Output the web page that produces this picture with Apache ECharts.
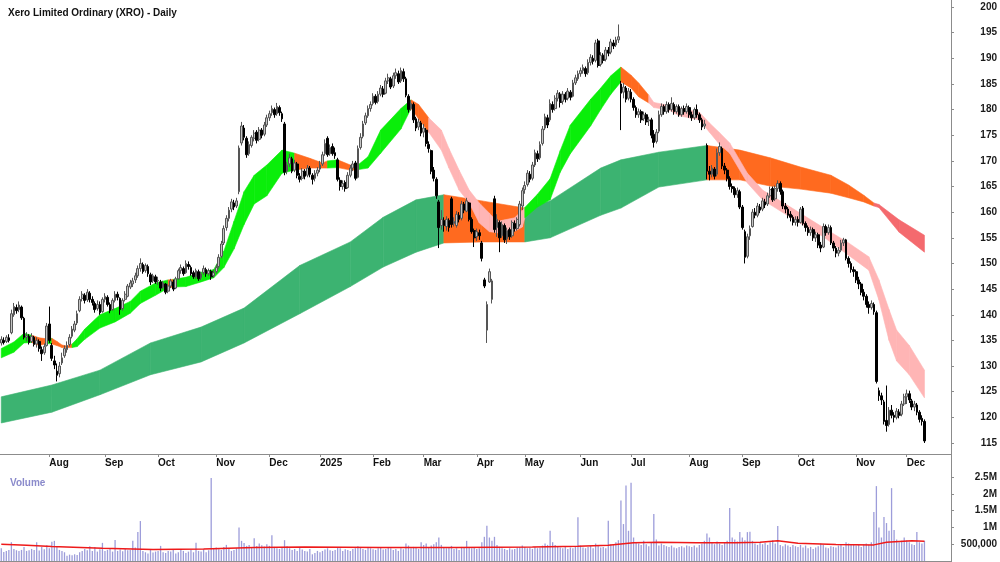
<!DOCTYPE html>
<html>
<head>
<meta charset="utf-8">
<script src="https://cdn.jsdelivr.net/npm/echarts@6/dist/echarts.min.js"></script>
<style>
html,body{margin:0;padding:0;background:#fff;}
#main{width:1000px;height:562px;}
</style>
</head>
<body>
<div id="main"></div>
<script>
// month labels on the time axis, one per month block below (the first block has no label)
const monthNames = ['Jul','Aug','Sep','Oct','Nov','Dec','2025','Feb','Mar','Apr','May','Jun','Jul','Aug','Sep','Oct','Nov','Dec'];
const priceTicks = [115,120,125,130,135,140,145,150,155,160,165,170,175,180,185,190,195,200];
const volTicks = [500000,1000000,1500000,2000000,2500000];
const volTickLabels = ['500,000','1M','1.5M','2M','2.5M'];

// daily bars: [open, close, low, high]
const jul24 = [[134.5,135.2,134.0,135.8],[135.0,134.6,134.2,135.6],[134.8,135.6,134.5,136.0],[135.5,135.0,134.6,136.2],[136.5,140.2,136.2,141.0],[140.0,141.6,139.6,142.3],[141.4,140.8,140.2,142.0],[141.0,141.9,140.5,142.6],[141.5,139.4,139.0,141.8],[139.3,135.6,135.2,139.6],[135.6,135.9,134.8,136.6],[135.8,134.6,134.2,136.2],[134.8,135.8,134.5,136.4],[135.6,134.2,133.8,135.9],[134.3,135.0,133.6,135.6],[134.8,133.4,132.8,135.2],[133.2,132.4,131.0,133.8],[132.6,133.8,132.2,134.4],[134.0,137.8,133.8,138.4]];
const aug24 = [[138.2,135.0,134.5,141.6],[134.0,131.5,131.0,134.5],[131.0,130.2,129.4,132.0],[129.0,128.2,127.0,130.5],[128.5,130.0,127.8,130.8],[130.6,131.6,130.2,132.6],[132.0,133.4,131.6,134.0],[133.2,134.0,132.6,134.8],[134.2,135.6,133.8,136.2],[135.8,137.2,135.4,137.8],[137.0,138.2,136.6,138.8],[138.4,140.2,138.0,140.8],[140.8,143.0,140.5,143.6],[143.2,144.0,142.6,144.6],[143.8,142.8,142.2,144.2],[142.9,144.4,142.5,145.0],[144.2,143.0,142.4,144.6],[143.0,142.4,141.8,143.6],[142.2,141.0,140.4,142.6],[141.2,142.0,140.8,142.8],[142.0,140.4,140.0,142.6],[140.6,143.0,140.4,143.4]];
const sep24 = [[143.0,143.6,142.4,144.2],[143.4,142.0,141.6,143.8],[142.0,140.8,140.3,142.4],[141.0,142.8,140.8,143.2],[142.8,144.0,142.4,144.6],[144.0,143.4,142.8,144.5],[143.2,141.0,140.0,143.4],[141.2,142.8,140.8,143.2],[143.0,144.0,142.6,144.6],[143.6,145.6,143.4,146.0],[145.4,146.2,145.0,146.8],[146.0,146.6,145.4,147.2],[146.8,147.6,146.2,148.2],[147.6,149.0,147.2,149.6],[149.0,150.0,148.4,151.0],[149.8,148.4,148.0,150.2],[148.6,149.6,148.2,150.0],[149.4,148.0,147.4,149.8],[147.8,146.4,145.8,148.2],[146.6,147.6,146.2,148.0],[147.4,146.4,146.0,147.8]];
const oct24 = [[146.6,146.7,145.8,147.4],[146.4,145.2,144.6,146.8],[145.4,146.2,145.0,146.6],[146.0,144.4,144.0,146.2],[144.6,145.6,144.2,146.0],[145.6,146.6,145.2,147.0],[146.4,145.0,144.6,146.8],[145.2,147.0,145.0,147.4],[147.0,148.6,146.8,149.0],[148.6,149.2,148.0,149.8],[149.0,148.0,147.6,149.4],[148.2,150.0,148.0,150.6],[149.8,149.4,148.8,150.4],[149.2,148.0,147.6,149.6],[148.2,147.4,147.0,148.6],[147.4,148.6,147.0,149.0],[148.4,147.0,146.6,148.8],[147.2,148.0,146.8,148.4],[148.2,149.0,147.8,149.6],[148.8,148.0,147.4,149.2],[148.0,148.6,147.6,149.0],[148.4,147.4,146.8,148.8],[147.6,148.2,147.2,148.8]];
const nov24 = [[148.4,149.2,148.0,149.8],[149.4,151.2,149.0,151.8],[151.4,153.8,151.0,154.4],[154.0,156.8,153.6,157.4],[157.0,158.8,156.4,159.4],[158.8,160.4,158.2,161.0],[160.6,162.0,160.0,162.6],[161.8,161.0,160.4,162.4],[161.2,162.2,160.8,162.8],[164.0,172.5,163.5,173.0],[173.5,176.8,173.0,177.6],[176.4,174.6,174.0,177.0],[174.4,171.2,170.6,174.8],[171.4,173.2,171.0,173.8],[173.0,174.6,172.6,175.0],[174.4,175.4,173.8,176.0],[175.6,174.0,173.4,176.0],[174.2,176.0,173.8,176.6],[176.0,175.0,174.4,176.4],[175.2,177.0,174.8,177.6],[177.0,178.4,176.6,179.0]];
const dec24 = [[178.4,179.2,177.8,179.8],[179.4,180.2,178.8,180.8],[180.0,179.0,178.4,180.4],[179.2,180.6,178.8,181.3],[180.4,179.4,178.8,180.8],[179.2,178.2,177.6,179.6],[177.2,167.8,167.2,177.6],[168.0,169.2,167.4,169.8],[169.4,170.6,168.8,171.4],[170.4,168.0,167.6,170.8],[168.2,169.6,167.8,170.2],[169.4,167.2,166.6,169.8],[167.0,166.4,165.8,167.6],[166.6,168.0,166.2,168.6],[168.0,167.0,166.4,168.4],[167.2,168.6,166.8,169.2],[168.6,167.4,166.8,169.0],[167.2,166.4,165.4,167.6],[166.6,167.6,166.0,168.2],[167.6,168.2,167.0,168.8]];
const jan25 = [[168.4,169.2,167.8,170.0],[169.4,171.2,169.0,171.8],[171.4,173.4,171.0,174.2],[174.4,171.2,170.8,174.8],[171.4,172.6,171.0,173.2],[172.8,171.4,171.0,173.4],[171.6,171.0,170.4,172.6],[170.2,166.4,166.0,170.6],[166.2,165.0,164.2,166.8],[165.0,165.6,164.4,166.2],[165.8,164.6,164.0,166.2],[164.8,167.2,164.6,167.8],[167.2,168.6,166.8,169.2],[168.6,169.4,168.0,170.0],[169.6,166.6,166.2,170.0],[166.8,172.4,166.6,173.0],[172.6,174.6,172.2,175.4],[174.8,177.2,174.4,177.8],[177.4,178.8,177.0,179.4],[178.8,180.2,178.4,180.8],[180.2,181.0,179.6,181.6]];
const feb25 = [[181.2,182.6,180.8,183.2],[182.6,181.4,181.0,183.0],[181.6,183.0,181.2,183.6],[183.0,184.2,182.6,184.8],[184.0,183.0,182.4,184.6],[183.2,185.6,183.0,186.2],[185.6,186.2,185.0,187.0],[186.0,184.4,184.0,186.4],[184.6,186.6,184.2,187.2],[186.6,187.2,186.0,188.0],[187.0,185.4,185.0,187.6],[185.6,187.6,185.2,188.2],[187.4,186.0,185.4,188.0],[186.0,182.8,182.4,186.4],[182.6,180.0,179.4,183.0],[180.2,181.2,179.8,181.8],[181.0,178.0,177.4,181.4],[178.2,176.4,175.8,178.6],[176.6,177.6,176.0,178.2],[177.4,175.4,174.8,177.8]];
const mar25 = [[175.6,176.4,174.6,177.2],[176.0,173.4,172.8,176.4],[173.2,172.4,171.6,173.8],[172.0,168.0,167.4,172.2],[168.2,166.6,166.0,168.8],[166.4,163.2,162.6,166.8],[162.0,157.0,153.0,162.4],[157.4,158.6,156.6,160.4],[158.4,157.4,156.2,159.0],[157.2,158.6,156.4,159.2],[158.4,157.0,156.2,158.8],[162.6,157.6,157.0,163.0],[157.8,158.2,157.2,159.0],[157.4,159.6,157.0,160.2],[159.4,158.6,158.0,160.0],[158.8,161.6,158.4,162.2],[161.6,160.4,159.8,162.0],[160.2,162.2,160.0,162.8],[161.8,158.6,158.2,162.0],[158.6,156.2,155.8,159.0],[156.4,155.0,153.2,156.8]];
const apr25 = [[155.2,156.2,154.4,156.8],[156.0,155.4,154.6,156.6],[154.0,151.0,150.4,154.4],[146.8,145.6,145.2,147.2],[137.0,142.0,134.5,142.6],[146.4,148.4,146.2,149.0],[143.0,146.6,142.2,147.0],[162.6,156.6,156.0,163.2],[157.0,158.6,155.2,159.6],[158.0,155.0,152.2,158.4],[155.4,157.6,155.0,158.2],[157.4,154.6,154.0,157.8],[154.8,156.4,153.8,157.0],[156.6,155.2,154.6,157.0],[155.4,158.0,155.0,158.4],[157.8,156.8,156.2,158.4],[156.8,158.6,156.4,159.0],[157.6,161.6,157.2,162.2],[161.2,164.2,160.4,164.8]];
const may25 = [[164.4,165.2,163.6,166.0],[165.4,167.6,165.0,168.2],[167.4,166.4,165.8,168.0],[166.6,169.2,166.2,169.8],[169.2,171.6,168.8,172.2],[171.4,170.4,169.8,172.0],[170.6,173.2,170.2,173.8],[173.4,176.2,173.0,176.8],[176.4,178.6,176.0,179.2],[178.4,177.0,176.4,179.0],[178.0,181.2,177.6,182.0],[181.0,180.0,179.4,181.6],[180.2,182.2,179.8,182.8],[182.2,183.2,181.6,183.8],[183.0,181.4,180.4,183.4],[181.6,183.0,181.0,183.6],[183.0,182.0,181.4,183.4],[182.2,183.6,181.8,184.2],[183.4,182.4,181.8,183.8],[182.6,185.2,182.4,185.8],[185.2,186.2,184.8,186.8],[186.0,187.0,185.6,187.6]];
const jun25 = [[187.0,187.6,186.4,188.2],[187.6,188.2,187.0,188.8],[188.0,187.0,186.4,188.4],[187.2,189.2,186.8,189.8],[189.2,190.2,188.6,190.8],[190.0,189.4,188.8,190.6],[189.6,193.0,189.2,193.6],[193.4,188.6,188.2,193.8],[188.8,190.6,188.4,191.2],[190.6,189.6,189.0,191.0],[189.8,191.6,189.4,192.2],[191.6,191.0,190.4,192.2],[191.2,193.2,190.8,193.8],[193.0,192.4,191.8,193.6],[192.6,193.6,192.2,194.2],[193.6,194.2,193.0,196.6],[185.0,183.2,176.0,185.6],[183.4,184.4,182.2,185.2],[184.2,182.0,181.4,184.6],[182.2,183.6,181.8,184.2]];
const jul25 = [[183.4,182.0,181.4,184.0],[182.0,180.4,179.8,182.4],[180.4,179.0,178.4,180.8],[179.0,179.6,178.4,180.2],[179.6,178.0,177.4,180.0],[178.2,179.0,177.8,179.6],[179.0,177.6,177.0,179.4],[177.8,178.0,176.8,178.6],[178.0,175.0,174.4,178.4],[175.2,173.6,172.6,176.0],[173.8,175.6,173.4,176.2],[175.8,179.0,175.4,179.8],[179.0,180.6,178.6,181.2],[180.6,179.6,179.0,181.0],[179.6,181.0,179.2,181.6],[181.0,180.0,179.4,181.4],[180.0,181.2,179.6,182.4],[181.0,179.6,179.0,181.4],[179.6,180.6,179.2,181.0],[180.6,179.0,178.6,181.0],[179.0,180.2,178.6,180.6],[180.2,179.6,179.0,180.8],[179.6,180.6,179.2,181.2]];
const aug25 = [[180.4,179.0,178.4,180.8],[179.0,178.4,177.8,179.6],[178.4,180.0,178.0,180.4],[180.0,179.0,178.4,181.0],[179.0,178.0,177.4,179.4],[178.0,176.6,176.0,178.4],[176.8,177.2,176.2,178.0],[173.0,168.0,166.4,173.4],[168.0,167.4,166.2,169.0],[167.4,168.6,166.8,169.2],[168.4,167.0,166.4,168.8],[167.4,171.6,167.0,172.4],[171.6,172.8,171.0,173.6],[172.4,169.0,168.4,172.8],[169.0,168.2,167.4,169.6],[168.2,166.6,166.0,168.6],[166.6,165.0,164.4,167.0],[165.0,164.6,163.8,165.6],[164.6,163.4,162.8,165.0],[163.4,164.2,162.8,164.8],[164.0,161.0,160.6,164.4]];
const sep25 = [[161.0,157.0,156.6,161.4],[156.2,151.2,150.0,156.6],[151.4,155.2,151.0,155.8],[155.4,156.8,154.6,157.4],[157.2,160.0,157.0,160.6],[160.0,159.4,158.8,160.8],[159.4,161.2,159.0,161.8],[161.0,160.4,159.8,161.6],[160.6,162.2,160.2,162.8],[162.0,161.4,160.8,162.6],[161.6,163.2,161.2,163.8],[163.2,164.4,162.8,165.0],[164.6,162.4,162.0,165.0],[162.6,164.6,162.2,165.2],[164.6,165.6,164.0,166.2],[165.6,164.0,163.4,166.0],[164.0,161.2,160.6,164.4],[161.2,160.6,159.8,161.8],[160.6,159.4,158.8,161.0],[159.6,159.0,158.2,160.2],[159.0,158.0,157.4,159.4],[158.0,158.6,157.4,159.2]];
const oct25 = [[158.6,158.0,157.2,159.2],[158.0,160.6,157.8,161.0],[160.8,157.8,157.4,161.2],[157.8,157.0,156.2,158.2],[157.0,156.0,155.4,157.4],[156.0,156.6,155.4,157.2],[156.6,155.0,154.4,157.0],[155.0,155.6,154.2,156.2],[155.6,153.6,153.0,156.0],[153.6,153.0,152.2,154.2],[153.2,157.2,153.0,157.8],[157.2,156.0,155.4,157.6],[156.0,157.0,155.6,157.6],[157.0,154.0,153.6,157.4],[154.0,153.0,152.4,154.4],[153.0,152.0,151.2,153.4],[152.0,152.6,151.4,153.2],[152.6,154.0,152.2,154.6],[154.0,154.6,153.4,155.0],[154.6,151.0,150.6,154.8],[151.0,150.0,149.2,151.4],[150.0,148.8,148.2,150.4],[148.8,148.4,147.4,149.4]];
const nov25 = [[148.4,146.8,146.2,148.8],[146.8,146.0,145.0,147.4],[146.0,144.4,143.8,146.4],[144.4,143.6,142.8,145.0],[143.6,142.0,141.4,144.0],[142.0,141.4,140.2,142.6],[141.4,142.2,141.0,142.8],[142.0,140.6,140.0,142.4],[140.4,127.0,126.6,140.8],[125.2,124.2,123.2,125.8],[124.2,123.4,122.4,124.8],[123.0,119.2,118.6,123.4],[119.4,118.4,117.2,126.2],[118.6,121.4,118.2,122.0],[121.4,120.4,119.8,122.4],[120.4,120.0,119.0,121.0],[120.0,121.2,119.6,121.8],[121.0,120.4,119.8,121.6],[120.6,122.6,120.2,123.2],[122.6,124.0,122.2,124.6]];
const dec25 = [[124.0,124.6,122.6,125.4],[124.6,123.4,122.8,125.2],[123.2,122.0,121.4,123.6],[122.0,122.6,121.2,123.2],[122.4,121.0,120.4,122.8],[121.0,119.6,119.0,121.4],[119.8,119.2,118.4,120.4],[119.2,115.4,115.0,119.6]];

// daily volume, thousands of shares
const volJul24 = [380,270,300,330,560,360,320,300,330,420,300,320,360,330,560,310,420,350,470];
const volAug24 = [380,570,600,420,330,300,260,160,190,170,200,180,260,300,360,320,440,300,420,280,350,540];
const volSep24 = [300,330,360,280,625,300,340,290,360,320,330,600,400,860,1190,300,260,220,330,250,280];
const volOct24 = [300,450,260,240,300,280,330,220,260,350,300,240,280,330,260,540,300,280,350,260,320,2470,360];
const volNov24 = [400,350,330,420,480,360,300,330,380,1000,600,536,450,480,420,680,450,520,470,430,500];
const volDec24 = [450,770,420,380,360,400,620,440,380,330,360,300,420,340,300,280,360,200,240,300];
const volJan25 = [260,300,340,380,320,300,330,420,380,300,350,330,300,360,380,440,400,360,330,420,380];
const volFeb25 = [350,330,380,400,340,360,420,380,330,360,300,380,350,520,460,380,420,400,360,560];
const volMar25 = [480,520,400,460,500,560,700,480,420,380,400,450,360,380,330,420,400,600,420,380,400];
const volApr25 = [360,380,560,720,1050,700,600,720,480,420,380,360,330,380,340,360,400,420,460];
const volMay25 = [420,380,400,360,420,380,400,460,520,480,900,560,480,420,400,380,420,360,400,380,420,1300];
const volJun25 = [460,400,380,420,450,380,520,480,400,420,380,1200,500,480,560,620,1800,1100,2250,900];
const volJul25 = [2330,700,560,520,480,600,500,440,560,1400,640,460,520,480,440,420,460,400,380,420,440,400,460];
const volAug25 = [440,420,460,400,480,520,600,820,700,560,500,580,520,480,560,600,1580,700,640,580,860];
const volSep25 = [700,620,860,870,600,520,480,560,500,540,480,560,620,520,1040,480,440,500,460,420,480,440];
const volOct25 = [420,480,400,460,380,420,360,400,440,520,480,400,380,440,420,400,460,480,420,560,520,480,500];
const volNov25 = [460,480,420,500,520,480,560,1460,2230,1000,700,1310,1130,900,2170,920,640,560,600,700];
const volDec25 = [620,560,500,480,860,560,520,600];

// volume average line, read at some bars: bar number, thousands
const volAvgBar = [0,10,20,40,60,80,100,120,150,180,210,228,240,250,260,275,290,300,307,315,330,345,350,360,365];
const volAvg = [500,470,430,380,340,360,400,420,400,400,420,440,470,540,560,540,540,560,600,530,490,480,560,600,590];

// short-term ribbon edges, read at some bars
const shortBar = [0,5,9,12,15,18,20,22,24,26,28,30,33,39,45,51,55,61,66,68,73,79,84,88,92,96,100,105,111,116,122,127,129,133,138,140,145,150,158,162,165,169,174,177,181,185,189,193,196,199,203,206,207,212,217,221,225,233,237,241,245,249,252,256,258,264,268,276,280,284,288,295,301,312,325,335,343,347,351,354,359,365];
const shortHi = [133.4,134.7,136.4,136.0,135.5,135.3,135.4,134.8,134.1,133.9,134.3,135.3,137.2,140.0,141.2,142.6,144.6,146.2,146.8,146.9,147.3,148.3,148.8,152.4,158.2,164.0,167.2,169.2,172.1,171.5,170.5,169.6,170.0,170.2,169.2,168.8,170.8,176.0,180.2,181.9,181.0,178.4,176.0,172.4,168.2,164.3,161.8,159.8,158.2,158.5,158.9,160.4,160.9,163.5,166.5,172.0,177.0,182.0,184.2,186.6,188.3,186.7,185.2,182.8,181.4,180.8,180.3,179.5,177.4,175.5,173.5,167.6,164.3,161.0,157.0,154.0,151.3,146.8,141.0,137.0,134.0,129.2];
const shortLo = [131.6,132.7,134.5,134.6,134.0,134.4,134.3,134.0,133.6,133.6,133.6,133.8,135.2,137.4,138.6,140.3,142.2,143.8,145.2,145.4,145.5,146.4,147.2,149.2,152.8,157.6,161.6,163.2,167.6,168.2,168.6,168.6,168.6,168.7,168.2,168.2,168.6,171.5,176.2,180.2,178.2,175.6,172.1,168.6,164.3,161.8,157.9,156.2,156.0,155.5,156.3,157.1,158.9,161.0,162.4,167.8,171.4,176.8,180.0,183.0,185.4,184.2,182.5,181.3,180.4,179.9,178.8,178.0,175.6,173.2,171.5,165.7,162.4,159.0,155.2,151.6,148.7,142.9,135.0,131.0,128.3,123.8];

// long-term ribbon edges, read at some bars
const longBar = [0,20,39,59,79,96,118,138,151,164,175,190,207,217,237,245,260,279,292,304,316,328,335,341,345,347,355,365];
const longHi = [124.0,126.3,129.2,134.5,137.6,141.3,149.6,154.2,159.0,162.4,163.4,162.2,160.8,162.2,168.6,170.2,171.7,173.0,172.1,170.6,168.8,167.2,165.3,163.3,161.8,161.5,158.5,155.5];
const longLo = [118.9,121.0,124.4,128.3,130.8,134.5,140.2,145.5,149.3,152.2,154.0,154.2,154.2,155.0,159.4,160.8,164.9,166.3,166.3,165.1,164.5,163.7,162.8,162.0,161.2,160.9,156.1,152.2];

// ribbon trend state from a bar onwards
const shortTrend = [[0,'up'],[12,'flat'],[18,'up'],[20,'flat'],[28,'up'],[66,'flat'],[68,'up'],[116,'flat'],[129,'up'],[133,'flat'],[140,'up'],[162,'flat'],[169,'down'],[207,'up'],[245,'flat'],[256,'down']];
const longTrend = [[0,'up'],[175,'flat'],[207,'up'],[279,'flat'],[345,'down']];

const shortColors = {up: '#0aee0a', flat: '#ff6a1f', down: '#ffb5b5'};
const longColors = {up: '#3cb371', flat: '#ff6a1f', down: '#f46a6e'};

const ohlcMonths = [jul24,aug24,sep24,oct24,nov24,dec24,jan25,feb25,mar25,apr25,may25,jun25,jul25,aug25,sep25,oct25,nov25,dec25];
const volMonths = [volJul24,volAug24,volSep24,volOct24,volNov24,volDec24,volJan25,volFeb25,volMar25,volApr25,volMay25,volJun25,volJul25,volAug25,volSep25,volOct25,volNov25,volDec25];

const categories = [];
ohlcMonths.forEach((m, mi) => m.forEach((_, d) => categories.push(mi + '|' + d)));
for (let k = 0; k < 10; k++) categories.push('pad|' + k);

const ohlc = [].concat(...ohlcMonths);
const volume = [].concat(...volMonths).map(v => v * 1000);
const volAvgLine = volAvgBar.map((b, k) => [b, volAvg[k] * 1000]);

// a tick and label where a new month starts (not for the partial first month)
function isMonthStart(v) {
  const p = String(v).split('|');
  return p[0] !== 'pad' && p[0] !== '0' && p[1] === '0';
}

function trendAt(trend, bar) {
  let s = trend[0][1];
  trend.forEach(t => { if (bar >= t[0]) s = t[1]; });
  return s;
}

function ribbon(bars, hi, lo, trend, colors, z) {
  const data = [];
  for (let k = 0; k < bars.length - 1; k++) {
    data.push([bars[k], hi[k], lo[k], bars[k + 1], hi[k + 1], lo[k + 1]]);
  }
  return {
    type: 'custom',
    xAxisIndex: 0,
    yAxisIndex: 0,
    z: z,
    silent: true,
    encode: {x: [0, 3], y: [1, 2, 4, 5]},
    data: data,
    renderItem: function (params, api) {
      const x0 = api.value(0), x1 = api.value(3);
      const c = colors[trendAt(trend, x0)];
      return {
        type: 'polygon',
        shape: {points: [
          api.coord([x0, api.value(1)]),
          api.coord([x1, api.value(4)]),
          api.coord([x1, api.value(5)]),
          api.coord([x0, api.value(2)])
        ]},
        style: {fill: c, stroke: c, lineWidth: 0.6}
      };
    }
  };
}

const font = 'Liberation Sans, Arial, sans-serif';
const axisGray = '#8c8c8c';

const option = {
  animation: false,
  backgroundColor: '#fff',
  title: [
    {text: 'Xero Limited Ordinary (XRO) - Daily', left: 3, top: 3,
     textStyle: {fontSize: 10, fontWeight: 'bold', color: '#111', fontFamily: font}},
    {text: 'Volume', left: 5, top: 473,
     textStyle: {fontSize: 10, fontWeight: 'bold', color: '#8a8acb', fontFamily: font}}
  ],
  grid: [
    {left: 0, right: 49, top: 0, height: 454},
    {left: 0, right: 49, top: 470, height: 91}
  ],
  xAxis: [
    {
      type: 'category', gridIndex: 0, data: categories, boundaryGap: true,
      axisLine: {show: true, lineStyle: {color: axisGray}},
      axisTick: {show: true, alignWithLabel: true, length: 3, interval: (i, v) => isMonthStart(v), lineStyle: {color: axisGray}},
      axisLabel: {
        interval: (i, v) => isMonthStart(v),
        formatter: v => monthNames[+String(v).split('|')[0]],
        align: 'left', margin: 4, color: '#111', fontSize: 10, fontWeight: 'bold', fontFamily: font
      },
      splitLine: {show: false}
    },
    {
      type: 'category', gridIndex: 1, data: categories, position: 'top', boundaryGap: true,
      axisLine: {show: true, lineStyle: {color: axisGray}},
      axisTick: {show: false}, axisLabel: {show: false}, splitLine: {show: false}
    }
  ],
  yAxis: [
    {
      type: 'value', gridIndex: 0, position: 'right', min: 112.85, max: 201.37,
      axisLine: {show: true, lineStyle: {color: axisGray}},
      axisTick: {show: true, length: 3, customValues: priceTicks, lineStyle: {color: axisGray}},
      axisLabel: {customValues: priceTicks, align: 'right', margin: 46, color: '#1a1a1a', fontSize: 10, fontWeight: 'bold', fontFamily: font},
      splitLine: {show: false}
    },
    {
      type: 'value', gridIndex: 1, position: 'right', min: 0, max: 2710000,
      axisLine: {show: true, lineStyle: {color: axisGray}},
      axisTick: {show: true, length: 3, customValues: volTicks, lineStyle: {color: axisGray}},
      axisLabel: {
        customValues: volTicks, align: 'right', margin: 46, color: '#1a1a1a', fontSize: 10, fontWeight: 'bold', fontFamily: font,
        formatter: v => volTickLabels[volTicks.indexOf(v)] || ''
      },
      splitLine: {show: false}
    }
  ],
  graphic: [
    {type: 'line', shape: {x1: 951.5, y1: 0, x2: 951.5, y2: 562}, style: {stroke: axisGray, lineWidth: 1}, silent: true}
  ],
  series: [
    ribbon(longBar, longHi, longLo, longTrend, longColors, 1),
    ribbon(shortBar, shortHi, shortLo, shortTrend, shortColors, 2),
    {
      type: 'candlestick', xAxisIndex: 0, yAxisIndex: 0, z: 5,
      data: ohlc, barWidth: 2.2,
      itemStyle: {color: '#c4c4c4', color0: '#000', borderColor: '#555', borderColor0: '#000', borderWidth: 1}
    },
    {
      type: 'bar', xAxisIndex: 1, yAxisIndex: 1, data: volume, barWidth: 1.3,
      itemStyle: {color: '#9d9dda'}
    },
    {
      type: 'line', xAxisIndex: 1, yAxisIndex: 1, data: volAvgLine, showSymbol: false,
      lineStyle: {color: '#ee1a1a', width: 1.5}, z: 6
    }
  ]
};

const chart = echarts.init(document.getElementById('main'));
chart.setOption(option);
</script>
</body>
</html>
